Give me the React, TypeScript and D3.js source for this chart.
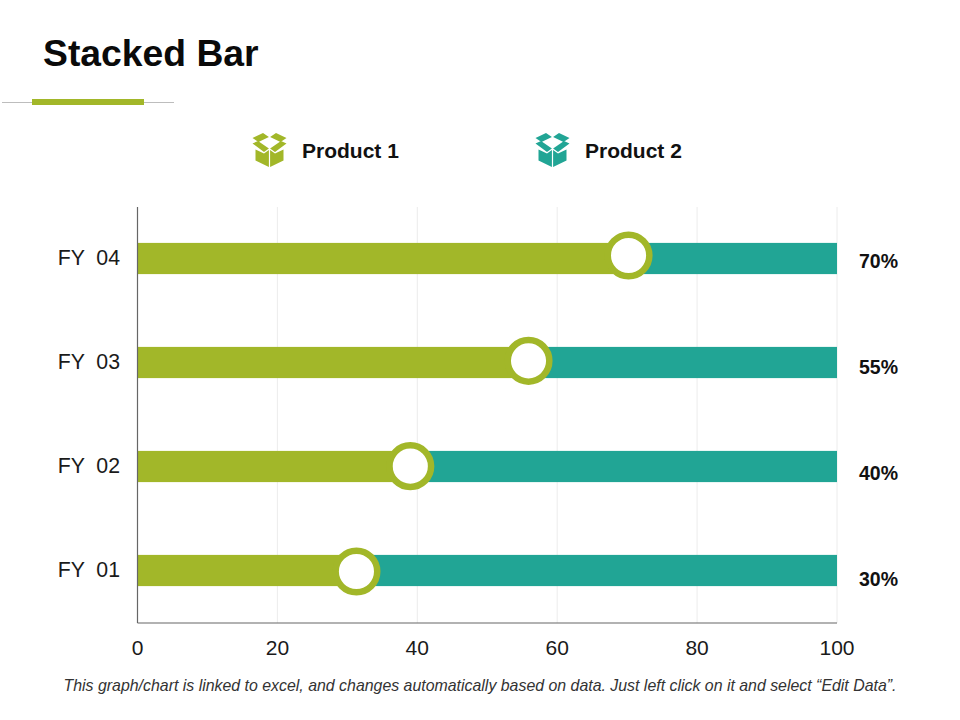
import React from 'react';
import * as d3 from 'd3';

const categories = ['FY  01', 'FY  02', 'FY  03', 'FY  04'];
const product1 = [31.3, 39, 55.9, 70.2];
const product2 = [68.7, 61, 44.1, 29.8];
const percentLabels = ['30%', '40%', '55%', '70%'];
const xTicks = [0, 20, 40, 60, 80, 100];
const seriesNames = ['Product 1', 'Product 2'];

const GREEN = '#a2b729';
const TEAL = '#21a595';
const FONT = '"Liberation Sans", Arial, sans-serif';

const halfBox = 'M-17,-12 L-6.500,-17 L-0.600,-13 L-11,-8 Z M-17,-6.500 L-11.500,-9 L-0.600,-1.500 L-5.500,2 Z M-14,-0.500 L-5.500,3.500 L-0.600,0 L-0.600,17 L-14,10.500 Z';

// open box icon, one half drawn and mirrored
const BoxIcon: React.FC<{ x: number; y: number; color: string }> = ({ x, y, color }) => (
  <g transform={`translate(${x},${y})`} fill={color}>
    <path d={halfBox} />
    <path d={halfBox} transform="scale(-1,1)" />
  </g>
);

const App: React.FC = () => {
  const x = d3.scaleLinear().domain([0, 100]).range([137.5, 837]);
  const y = d3.scaleBand().domain([...categories].reverse()).range([207, 623]).paddingInner(0.7).paddingOuter(0.35);
  // markers and the percent column don't line up exactly with the bars in the original
  const markerY = d3.scalePoint().domain([...categories].reverse()).range([255.5, 571.5]);
  const labelY = d3.scalePoint().domain([...categories].reverse()).range([268, 586]);
  const stack = d3.stack<number>()
    .keys(['0', '1'])
    .value((i, key) => (key === '0' ? product1[i] : product2[i]));
  const layers = stack(categories.map((_, i) => i));
  const colors = [GREEN, TEAL];
  const bh = y.bandwidth();

  return (
    <svg width={960} height={720} style={{ position: 'absolute', left: 0, top: 0, background: '#fff' }} fontFamily={FONT}>
      <text x={43} y={66} fontSize={37.300} fontWeight="bold" fill="#0a0a0a">Stacked Bar</text>
      <line x1={2} x2={174} y1={102.500} y2={102.500} stroke="#bdbdbd" strokeWidth={1} />
      <rect x={32} y={99} width={112} height={6} fill={GREEN} />

      <BoxIcon x={269.500} y={150} color={GREEN} />
      <BoxIcon x={552.500} y={150} color={TEAL} />
      <text x={302} y={158} fontSize={21} fontWeight="bold" fill="#111">{seriesNames[0]}</text>
      <text x={585} y={158} fontSize={21} fontWeight="bold" fill="#111">{seriesNames[1]}</text>

      {xTicks.slice(1).map(t => (
        <line key={t} x1={x(t)} x2={x(t)} y1={207} y2={623} stroke="#ececec" strokeWidth={1} />
      ))}

      {layers.map((layer, li) => (
        <g key={li} fill={colors[li]}>
          {layer.map((d, i) => (
            <rect key={i} x={x(d[0])} y={(y(categories[i]) as number) - 0.5} width={x(d[1]) - x(d[0])} height={bh} />
          ))}
        </g>
      ))}

      <line x1={137.500} x2={137.500} y1={207} y2={623} stroke="#666" strokeWidth={1.2} />
      <line x1={137.500} x2={837} y1={623} y2={623} stroke="#666" strokeWidth={1.2} />

      {categories.map((c, i) => (
        <g key={c}>
          <text x={120} y={(y(c) as number) + bh / 2 + 5.500} textAnchor="end" fontSize={21.300} fill="#1a1a1a" style={{ whiteSpace: 'pre' }}>{c}</text>
          <circle cx={x(product1[i])} cy={markerY(c)} r={20.800} fill="#fff" stroke={GREEN} strokeWidth={6.500} />
          <text x={859} y={labelY(c)} fontSize={19.500} fontWeight="bold" fill="#111">{percentLabels[i]}</text>
        </g>
      ))}

      {xTicks.map(t => (
        <text key={t} x={x(t)} y={655} textAnchor="middle" fontSize={21} fill="#1a1a1a">{t}</text>
      ))}

      <text x={480} y={691} textAnchor="middle" fontSize={15.900} fontStyle="italic" fill="#333">
        This graph/chart is linked to excel, and changes automatically based on data. Just left click on it and select “Edit Data”.
      </text>
    </svg>
  );
};

export default App;
